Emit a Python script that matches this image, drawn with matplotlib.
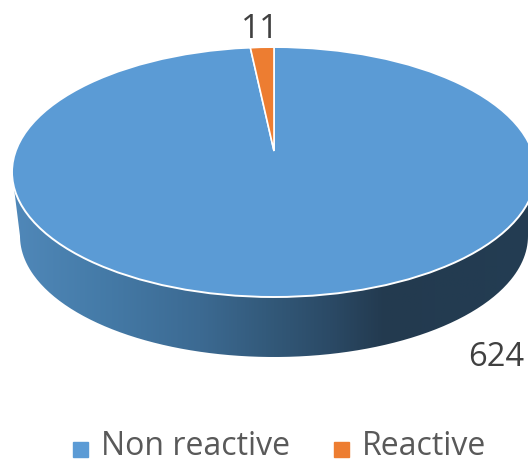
import numpy as np
import matplotlib
matplotlib.use("Agg")
import matplotlib.pyplot as plt
from matplotlib.patches import PathPatch, Rectangle, Ellipse
from matplotlib.path import Path

labels = ["Non reactive", "Reactive"]
values = [624, 11]
colors = ["#5B9BD5", "#ED7D31"]

W, H = 528, 464
plt.rcParams['font.family'] = ['Open Sans', 'DejaVu Sans']
fig = plt.figure(figsize=(W/100, H/100), dpi=100)
ax = fig.add_axes([0, 0, 1, 1])
ax.axis("off")

cx, cy, rx, ry = 274, 173, 262, 125
apex_y = 152
bcy, brx, bry = 237, 254, 121

# side wall
t = np.linspace(0, np.pi, 240)
top = np.c_[cx + rx*np.cos(t), cy + ry*np.sin(t)]
bot = np.c_[cx + brx*np.cos(t), bcy + bry*np.sin(t)]
verts = np.r_[bot, top[::-1], bot[:1]]
stops_x = [12, 100, 200, 274, 330, 385, 536]
stops_c = [np.array(matplotlib.colors.to_rgb(c)) for c in
           ["#5088B9", "#457BA8", "#3C6A92", "#325878", "#2B4A66", "#233A4F", "#233D53"]]
xs = np.linspace(12, 536, 256)
img = np.stack([np.interp(xs, stops_x, [c[i] for c in stops_c]) for i in range(3)], axis=-1)[None, :, :]
im = ax.imshow(img, extent=[12, 536, 362, 170], aspect="auto", zorder=1)
im.set_clip_path(PathPatch(Path(verts), transform=ax.transData))
ax.set_xlim(0, W); ax.set_ylim(H, 0)

# top, through the pie layout, apex shifted back and clipped to the rim
sub = fig.add_axes([(cx-rx)/W, 1-(cy+ry)/H, 2*rx/W, 2*ry/H], zorder=2)
sub.patch.set_alpha(0)
wedges, _ = sub.pie(values, colors=colors, startangle=90, counterclock=False, radius=3,
                    center=(0, (cy-apex_y)/ry),
                    wedgeprops=dict(edgecolor="white", linewidth=1.2))
sub.set_aspect("auto"); sub.set_xlim(-1, 1); sub.set_ylim(-1, 1); sub.axis("off")
rim = Ellipse((0, 0), 2, 2, transform=sub.transData, facecolor="none",
              edgecolor="white", linewidth=1.4, clip_on=False, zorder=5)
sub.add_patch(rim)
rim.set_clip_on(False)
for w in wedges:
    w.set_clip_on(True)
    w.set_clip_path(Ellipse((0, 0), 2, 2, transform=sub.transData))

# labels
ax.text(260.5, 30, str(values[1]), fontsize=24, color="#404040", ha="center", va="center", zorder=3)
ax.text(496, 358, str(values[0]), fontsize=23.5, color="#404040", ha="center", va="center", zorder=3)

# legend
ax.add_patch(Rectangle((73, 443), 15, 15, color=colors[0], zorder=3))
ax.text(101, 463.5, labels[0], fontsize=23, color="#595959", va="bottom", zorder=3)
ax.add_patch(Rectangle((334, 443), 15, 15, color=colors[1], zorder=3))
ax.text(362, 463.5, labels[1], fontsize=23, color="#595959", va="bottom", zorder=3)

fig.savefig("out.png", dpi=100)
